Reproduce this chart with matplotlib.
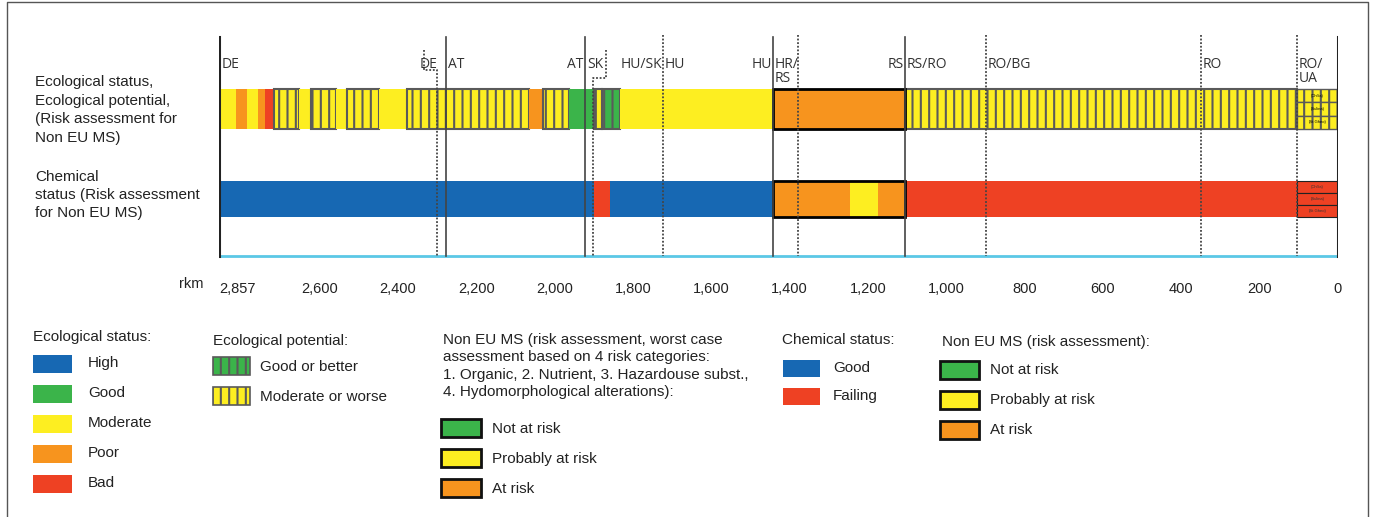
import matplotlib
matplotlib.use("Agg")
import matplotlib.pyplot as plt
from matplotlib.patches import Rectangle

plt.rcParams['font.family'] = ['Liberation Sans', 'DejaVu Sans']
plt.rcParams['hatch.linewidth'] = 1.5

BLUE = '#1768b3'
GREEN = '#3bb44a'
YELLOW = '#fdee21'
ORANGE = '#f7941e'
RED = '#ee4123'
CYAN = '#5bc8e6'
GRAY = '#5a5a5a'

# river km, 2857 = start of the Danube, 0 = mouth
eco_from = [2857, 2814, 2786, 2757, 2740, 2717, 2653, 2622, 2558, 2530,
            2448, 2377, 2065, 2030, 1963, 1900, 1880, 1833, 1443, 1106]
eco_to = [2814, 2786, 2757, 2740, 2717, 2653, 2622, 2558, 2530, 2448,
          2377, 2065, 2030, 1963, 1900, 1880, 1833, 1443, 1106, 105]
eco_class = ['moderate', 'poor', 'moderate', 'poor', 'bad', 'pot_moderate',
             'moderate', 'pot_moderate', 'moderate', 'pot_moderate',
             'moderate', 'pot_moderate', 'poor', 'pot_moderate', 'good',
             'pot_moderate', 'pot_good', 'moderate', 'at_risk', 'pot_moderate']

chem_from = [2857, 1900, 1859, 1443, 1246, 1174, 1106]
chem_to = [1900, 1859, 1443, 1246, 1174, 1106, 105]
chem_class = ['good', 'failing', 'good', 'at_risk', 'prob_risk', 'at_risk', 'failing']

# Danube delta arms (last 105 km)
delta_from = 105
delta_arms = ['(Chilia)', '(Sulina)', '(St.Gheo)']

non_eu_span = (1443, 1106)

border_solid = [2277, 1923, 1443, 1106]
border_dotted = [1723, 1379, 899, 350, 105]

country_names = ['DE', 'DE', 'AT', 'AT', 'SK', 'HU/SK', 'HU', 'HU', 'HR/\nRS',
                 'RS', 'RS/RO', 'RO/BG', 'RO', 'RO/\nUA']
country_rkm = [2851, 2298, 2272, 1926, 1918, 1725, 1719, 1446, 1438,
               1109, 1101, 894, 345, 100]
country_align = ['left', 'right', 'left', 'right', 'left', 'right', 'left',
                 'right', 'left', 'right', 'left', 'left', 'left', 'left']

tick_rkm = [2857, 2600, 2400, 2200, 2000, 1800, 1600, 1400, 1200, 1000, 800, 600, 400, 200, 0]
tick_text = ['2,857', '2,600', '2,400', '2,200', '2,000', '1,800', '1,600', '1,400',
             '1,200', '1,000', '800', '600', '400', '200', '0']

styles = {
    'moderate': dict(color=YELLOW, lw=0),
    'poor': dict(color=ORANGE, lw=0),
    'bad': dict(color=RED, lw=0),
    'good': dict(color=GREEN, lw=0),
    'pot_moderate': dict(color=YELLOW, edgecolor=GRAY, hatch='||', lw=1.5),
    'pot_good': dict(color=GREEN, edgecolor=GRAY, hatch='||', lw=1.5),
    'at_risk': dict(color=ORANGE, lw=0),
    'prob_risk': dict(color=YELLOW, lw=0),
    'failing': dict(color=RED, lw=0),
}
chem_styles = dict(styles, good=dict(color=BLUE, lw=0))

W, H = 1373, 517
fig = plt.figure(figsize=(W / 100, H / 100), dpi=100)

# overlay in pixel units for frame, row titles and legend
lax = fig.add_axes([0, 0, 1, 1])
lax.set_xlim(0, W)
lax.set_ylim(H, 0)
lax.axis('off')

ax = fig.add_axes([219 / W, 1 - 260 / H, (1338 - 219) / W, 230 / H])
ax.set_xlim(2857, 0)
ax.set_ylim(260, 30)
ax.patch.set_alpha(0)
for s in ax.spines.values():
    s.set_visible(False)

eco_y, eco_h = 109, 40
chem_y, chem_h = 199, 36

for a, b, c in zip(eco_from, eco_to, eco_class):
    ax.barh(eco_y, a - b, left=b, height=eco_h, **styles[c])
for a, b, c in zip(chem_from, chem_to, chem_class):
    ax.barh(chem_y, a - b, left=b, height=chem_h, **chem_styles[c])

# delta arms, three sub-rows
for i, name in enumerate(delta_arms):
    yy = eco_y - eco_h / 2 + eco_h / 6 * (2 * i + 1)
    ax.barh(yy, delta_from, left=0, height=eco_h / 3, color=YELLOW,
            edgecolor=GRAY, hatch='||', lw=1)
    ax.text(delta_from / 2, yy, name, fontsize=3, ha='center', va='center')
    yc = chem_y - chem_h / 2 + chem_h / 6 * (2 * i + 1)
    ax.barh(yc, delta_from, left=0, height=chem_h / 3, color=RED,
            edgecolor='#222222', lw=0.8)
    ax.text(delta_from / 2, yc, name, fontsize=3, ha='center', va='center', color='#333333')

# non EU member states box
for yc, hh in [(eco_y, eco_h), (chem_y, chem_h)]:
    ax.barh(yc, non_eu_span[0] - non_eu_span[1], left=non_eu_span[1], height=hh,
            color='none', edgecolor='black', lw=2)

# borders
for x in border_solid:
    ax.plot([x, x], [37, 256], color='#444444', lw=1.2, zorder=5)
for x in border_dotted:
    ax.plot([x, x], [35, 256], color='#444444', lw=1.3, ls=(0, (1, 1)), zorder=5)
# DE and SK border brackets
ax.plot([2334, 2334, 2300, 2300], [50, 70, 70, 256], color='#444444', lw=1.3,
        ls=(0, (1, 1)), zorder=5)
ax.plot([1869, 1869, 1902, 1902], [50, 78, 78, 256], color='#444444', lw=1.3,
        ls=(0, (1, 1)), zorder=5)

ax.plot([2857, 0], [256, 256], color=CYAN, lw=2, zorder=4)
for x in [2857, 0]:
    ax.plot([x, x], [37, 256], color='#222222', lw=2.2, zorder=6)

for name, x, al in zip(country_names, country_rkm, country_align):
    ax.text(x, 57, name, ha=al, va='top', fontsize=10, family=['Open Sans', 'DejaVu Sans'],
            color='#333333', linespacing=0.95)

ax.set_yticks([])
ax.set_xticks(tick_rkm)
ax.set_xticklabels(tick_text, fontsize=10.5, color='#222222')
ax.tick_params(axis='x', length=0, pad=16)
ax.get_xticklabels()[0].set_horizontalalignment('left')

# frame
lax.plot([7, 7, 1368, 1368], [H, 2, 2, H], color='#555555', lw=1)

txt = dict(fontsize=11, color='#222222')
lax.text(35, 110, 'Ecological status,\nEcological potential,\n(Risk assessment for\nNon EU MS)',
         va='center', ha='left', linespacing=1.4, **txt)
lax.text(35, 195, 'Chemical\nstatus (Risk assessment\nfor Non EU MS)',
         va='center', ha='left', linespacing=1.4, **txt)
lax.text(191, 284, 'rkm', va='center', ha='center', fontsize=10.5, color='#222222')


def swatch(x, y, w, h, **kw):
    lax.add_patch(Rectangle((x, y), w, h, **kw))


# Ecological status legend
lax.text(33, 337, 'Ecological status:', va='center', **txt)
eco_leg = [('High', BLUE), ('Good', GREEN), ('Moderate', YELLOW), ('Poor', ORANGE), ('Bad', RED)]
for i, (lab, col) in enumerate(eco_leg):
    y0 = 355 + i * 30
    swatch(33, y0, 39, 18, facecolor=col, lw=0)
    lax.text(88, y0 + 8, lab, va='center', **txt)

# Ecological potential legend
lax.text(213, 341, 'Ecological potential:', va='center', **txt)
for i, (lab, col) in enumerate([('Good or better', GREEN), ('Moderate or worse', YELLOW)]):
    y0 = 357 + i * 30
    swatch(213, y0, 37, 18, facecolor=col, edgecolor=GRAY, hatch='||', lw=1.2)
    lax.text(260, y0 + 10, lab, va='center', **txt)

# Non EU MS legend
lax.text(443, 366, 'Non EU MS (risk assessment, worst case\nassessment based on 4 risk categories:\n'
         '1. Organic, 2. Nutrient, 3. Hazardouse subst.,\n4. Hydomorphological alterations):',
         va='center', linespacing=1.32, **txt)
risk_leg = [('Not at risk', GREEN), ('Probably at risk', YELLOW), ('At risk', ORANGE)]
for i, (lab, col) in enumerate(risk_leg):
    y0 = 419 + i * 30
    swatch(441, y0, 40, 18, facecolor=col, edgecolor='#111111', lw=2)
    lax.text(492, y0 + 10, lab, va='center', **txt)

# Chemical status legend
lax.text(782, 340, 'Chemical status:', va='center', **txt)
for i, (lab, col) in enumerate([('Good', BLUE), ('Failing', RED)]):
    y0 = 360 + i * 28
    swatch(783, y0, 37, 17, facecolor=col, lw=0)
    lax.text(833, y0 + 8, lab, va='center', **txt)

# Non EU MS (risk assessment) legend
lax.text(942, 342, 'Non EU MS (risk assessment):', va='center', **txt)
for i, (lab, col) in enumerate(risk_leg):
    y0 = 361 + i * 30
    swatch(940, y0, 39, 18, facecolor=col, edgecolor='#111111', lw=2)
    lax.text(990, y0 + 9, lab, va='center', **txt)

fig.savefig('out.png', dpi=100)
